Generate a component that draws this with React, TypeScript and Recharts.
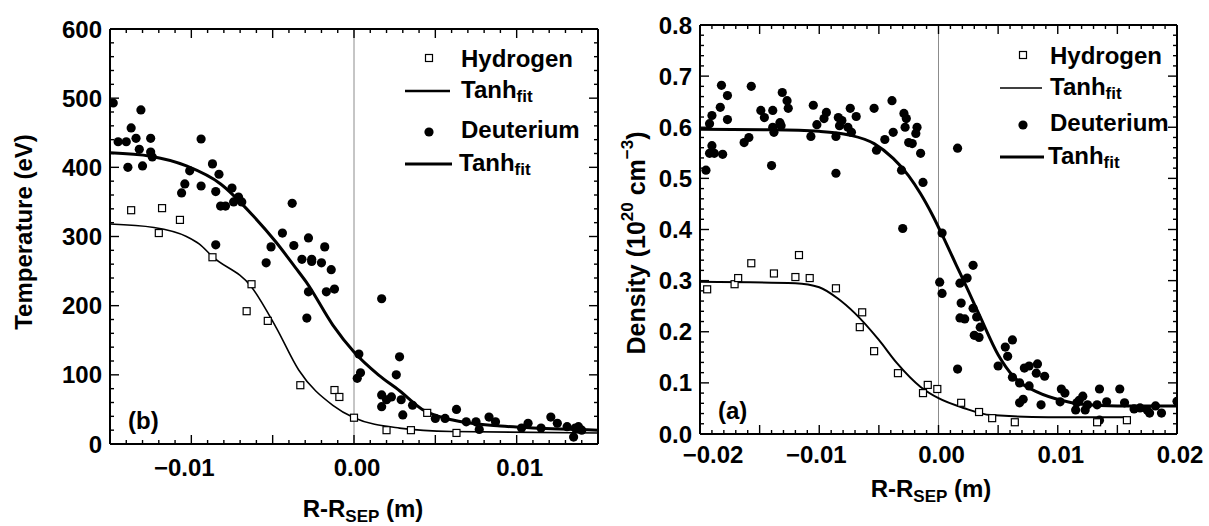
import React from 'react';
import { ComposedChart, Line, Scatter, XAxis, YAxis, ReferenceLine } from 'recharts';

const FONT = '"Liberation Sans", Arial, sans-serif';

// panel (b): electron temperature, [R-Rsep (m), Te (eV)]
const tempHydrogen = [
  [-0.0137, 338], [-0.0118, 341], [-0.0107, 324], [-0.012, 305], [-0.0087, 270],
  [-0.0063, 231], [-0.0066, 192], [-0.0053, 178], [-0.0033, 85], [-0.0012, 78],
  [-0.0009, 68], [0.0, 38], [0.002, 20], [0.0035, 20], [0.0045, 45], [0.0063, 16],
];
const tempDeuterium = [
  [-0.0148, 493], [-0.0145, 437], [-0.014, 437], [-0.0139, 400], [-0.0137, 457],
  [-0.0134, 442], [-0.0131, 483], [-0.0132, 426], [-0.013, 402], [-0.0125, 442],
  [-0.0125, 422], [-0.0124, 415], [-0.0101, 395], [-0.0106, 363], [-0.0104, 376],
  [-0.0094, 441], [-0.0094, 373], [-0.0087, 405], [-0.0083, 390], [-0.0085, 365],
  [-0.0082, 344], [-0.0079, 344], [-0.0075, 370], [-0.0074, 350], [-0.0071, 357],
  [-0.0069, 350], [-0.0085, 288], [-0.0038, 348], [-0.0051, 285], [-0.0044, 305],
  [-0.0037, 287], [-0.0028, 298], [-0.0018, 285], [-0.0032, 267], [-0.0026, 267],
  [-0.0054, 262], [-0.0026, 264], [-0.002, 262], [-0.0014, 252], [-0.0028, 220],
  [-0.0017, 220], [-0.0012, 224], [-0.0029, 182], [0.0017, 210], [0.0002, 95],
  [0.0003, 130], [0.0004, 103], [0.0028, 126], [0.0026, 100], [0.0017, 71],
  [0.002, 64], [0.0017, 54], [0.0023, 68], [0.0029, 64], [0.0036, 56],
  [0.003, 42], [0.005, 37], [0.0056, 37], [0.0063, 50], [0.0069, 32],
  [0.0075, 32], [0.0077, 21], [0.0083, 39], [0.0087, 32], [0.0103, 23],
  [0.0107, 30], [0.0115, 23], [0.0121, 39], [0.0125, 30], [0.0131, 25],
  [0.0135, 10], [0.0138, 25], [0.014, 20], [0.0136, 23],
];
const tempHydrogenFit = [
  [-0.015, 318], [-0.0123, 313], [-0.0103, 300], [-0.0095, 289], [-0.0087, 271],
  [-0.0063, 227], [-0.0048, 169], [-0.0034, 107], [-0.0013, 56], [0.0, 38],
  [0.0028, 23], [0.006, 18], [0.015, 16],
];
const tempDeuteriumFit = [
  [-0.015, 421], [-0.0125, 416], [-0.0103, 402], [-0.0082, 376], [-0.0062, 330],
  [-0.0048, 292], [-0.0036, 255], [-0.0029, 233], [-0.0013, 172], [0.0, 133],
  [0.0015, 100], [0.0028, 77], [0.0042, 50], [0.0055, 38], [0.0069, 31],
  [0.009, 26], [0.011, 23], [0.015, 20],
];
const tempXLabelValues = [-0.01, 0, 0.01];
const tempXLabelText = ['\u22120.01', '0.00', '0.01'];
const tempYLabelValues = [0, 100, 200, 300, 400, 500, 600];
const tempYLabelText = ['0', '100', '200', '300', '400', '500', '600'];

// panel (a): density, [R-Rsep (m), n (1e20 cm^-3)]
const densHydrogen = [
  [-0.0194, 0.283], [-0.0171, 0.293], [-0.0168, 0.305], [-0.0157, 0.334], [-0.0138, 0.314],
  [-0.012, 0.307], [-0.0117, 0.35], [-0.0108, 0.305], [-0.0086, 0.285], [-0.0064, 0.238],
  [-0.0066, 0.209], [-0.0054, 0.162], [-0.0034, 0.119], [-0.0013, 0.08], [-0.0009, 0.096],
  [-0.0001, 0.088], [0.0019, 0.061], [0.0034, 0.043], [0.0045, 0.031], [0.0064, 0.023],
  [0.0133, 0.023], [0.0158, 0.027],
];
const densDeuterium = [
  [-0.0195, 0.516], [-0.0192, 0.607], [-0.019, 0.623], [-0.0183, 0.639], [-0.0182, 0.682],
  [-0.0177, 0.662], [-0.0177, 0.615], [-0.019, 0.564], [-0.0192, 0.549], [-0.0188, 0.549],
  [-0.0181, 0.547], [-0.0163, 0.57], [-0.0159, 0.58], [-0.0157, 0.68], [-0.0149, 0.633],
  [-0.0146, 0.619], [-0.014, 0.525], [-0.0139, 0.633], [-0.0139, 0.6], [-0.0138, 0.59],
  [-0.0133, 0.609], [-0.0132, 0.603], [-0.0131, 0.668], [-0.0127, 0.652], [-0.0126, 0.637],
  [-0.0105, 0.643], [-0.0107, 0.582], [-0.0102, 0.605], [-0.0096, 0.617], [-0.0094, 0.629],
  [-0.0086, 0.51], [-0.0086, 0.582], [-0.0084, 0.619], [-0.0083, 0.603], [-0.0081, 0.613],
  [-0.0076, 0.6], [-0.0074, 0.637], [-0.0073, 0.59], [-0.0069, 0.621], [-0.0054, 0.637],
  [-0.0052, 0.555], [-0.0045, 0.576], [-0.0039, 0.652], [-0.0038, 0.59], [-0.0029, 0.627],
  [-0.0027, 0.617], [-0.0028, 0.6], [-0.0019, 0.588], [-0.0018, 0.6], [-0.0025, 0.57],
  [-0.0022, 0.568], [-0.0015, 0.549], [-0.0031, 0.516], [-0.0013, 0.492], [-0.003, 0.402],
  [0.0003, 0.393], [0.0016, 0.559], [0.0001, 0.297], [0.0003, 0.275], [0.0016, 0.127],
  [0.0018, 0.295], [0.0019, 0.256], [0.0018, 0.227], [0.0022, 0.225], [0.0024, 0.305],
  [0.0029, 0.33], [0.0029, 0.246], [0.0032, 0.229], [0.0035, 0.209], [0.003, 0.193],
  [0.0034, 0.189], [0.005, 0.133], [0.0056, 0.17], [0.0058, 0.152], [0.0062, 0.184],
  [0.0062, 0.111], [0.0068, 0.1], [0.0072, 0.129], [0.0076, 0.133], [0.0076, 0.094],
  [0.0068, 0.061], [0.0071, 0.068], [0.0083, 0.137], [0.0082, 0.119], [0.0089, 0.113],
  [0.0086, 0.057], [0.0103, 0.088], [0.0106, 0.08], [0.0102, 0.063], [0.0116, 0.061],
  [0.0118, 0.066], [0.0121, 0.074], [0.0125, 0.057], [0.0115, 0.047], [0.0123, 0.047],
  [0.0135, 0.088], [0.0133, 0.057], [0.0141, 0.063], [0.0135, 0.027], [0.0152, 0.088],
  [0.0156, 0.061], [0.0164, 0.049], [0.0169, 0.051], [0.0175, 0.047], [0.0182, 0.055],
  [0.0187, 0.041], [0.02, 0.064], [0.0177, 0.041],
];
const densHydrogenFit = [
  [-0.02, 0.298], [-0.012, 0.295], [-0.01, 0.287], [-0.0085, 0.266], [-0.007, 0.236],
  [-0.005, 0.184], [-0.0035, 0.139], [-0.0015, 0.092], [0.0, 0.07], [0.0021, 0.051],
  [0.0044, 0.037], [0.0092, 0.033], [0.0158, 0.033],
];
const densDeuteriumFit = [
  [-0.02, 0.596], [-0.014, 0.595], [-0.01, 0.592], [-0.0075, 0.585], [-0.0054, 0.568],
  [-0.0038, 0.539], [-0.0025, 0.505], [-0.0015, 0.47], [-0.0005, 0.428], [0.0005, 0.38],
  [0.0015, 0.33], [0.0025, 0.28], [0.0035, 0.229], [0.005, 0.155], [0.0063, 0.112],
  [0.0083, 0.082], [0.0103, 0.066], [0.012, 0.058], [0.015, 0.055], [0.02, 0.055],
];
const densXLabelValues = [-0.02, -0.01, 0, 0.01, 0.02];
const densXLabelText = ['\u22120.02', '\u22120.01', '0.00', '0.01', '0.02'];
const densYLabelValues = [0, 0.1, 0.2, 0.3, 0.4, 0.5, 0.6, 0.7, 0.8];
const densYLabelText = ['0.0', '0.1', '0.2', '0.3', '0.4', '0.5', '0.6', '0.7', '0.8'];

const toXY = (arr: number[][]) => arr.map(([x, y]) => ({ x, y }));

function steps(from: number, to: number, step: number) {
  const out: number[] = [];
  const n = Math.round((to - from) / step);
  for (let i = 0; i <= n; i++) out.push(Number((from + i * step).toFixed(6)));
  return out;
}

const onStep = (v: number, step: number) => Math.abs(v / step - Math.round(v / step)) < 1e-6;

function lookup(values: number[], text: string[], v: number) {
  const i = values.findIndex((t) => Math.abs(t - v) < 1e-9);
  return i < 0 ? null : text[i];
}

const AXIS = { stroke: '#000', strokeWidth: 2 };
const TEXT = { fontFamily: FONT, fontWeight: 700, fontSize: 24, fill: '#000' };
const SUB = 17;

function Square(props: any) {
  const { cx, cy } = props;
  if (cx == null || cy == null) return null;
  return <rect x={cx - 3.5} y={cy - 3.5} width={7} height={7} fill="#fff" stroke="#000" strokeWidth={1.2} />;
}

function Dot(props: any) {
  const { cx, cy } = props;
  if (cx == null || cy == null) return null;
  return <circle cx={cx} cy={cy} r={4.6} fill="#000" />;
}

interface PanelProps {
  left: number;
  width: number;
  height: number;
  margin: { top: number; right: number; bottom: number; left: number };
  xDomain: [number, number];
  yDomain: [number, number];
  xTicks: number[];
  yTicks: number[];
  xMajor: number;
  yMajor: number;
  xLabelValues: number[];
  xLabelText: string[];
  yLabelValues: number[];
  yLabelText: string[];
  xLabelDy: number;
  xLabelDx: (v: number) => number;
  hydrogen: number[][];
  deuterium: number[][];
  hydrogenFit: number[][];
  deuteriumFit: number[][];
  hydrogenFitWidth: number;
}

function Panel(p: PanelProps) {
  const xTick = (side: 'bottom' | 'top') => (t: any) => {
    const v = t.payload.value;
    const len = onStep(v, p.xMajor) ? 9 : 4;
    const dir = side === 'bottom' ? -1 : 1;
    const label = side === 'bottom' ? lookup(p.xLabelValues, p.xLabelText, v) : null;
    return (
      <g>
        <line x1={t.x} x2={t.x} y1={t.y} y2={t.y + dir * len} stroke="#000" strokeWidth={1.4} />
        {label && (
          <text x={t.x + p.xLabelDx(v)} y={t.y + p.xLabelDy} textAnchor="middle" {...TEXT}>
            {label}
          </text>
        )}
      </g>
    );
  };
  const yTick = (side: 'left' | 'right') => (t: any) => {
    const v = t.payload.value;
    const len = onStep(v, p.yMajor) ? 9 : 4;
    const dir = side === 'left' ? 1 : -1;
    const label = side === 'left' ? lookup(p.yLabelValues, p.yLabelText, v) : null;
    return (
      <g>
        <line x1={t.x} x2={t.x + dir * len} y1={t.y} y2={t.y} stroke="#000" strokeWidth={1.4} />
        {label && (
          <text x={t.x - 8} y={t.y} textAnchor="end" dominantBaseline="central" {...TEXT}>
            {label}
          </text>
        )}
      </g>
    );
  };

  return (
    <div style={{ position: 'absolute', left: p.left, top: 0 }}>
      <ComposedChart width={p.width} height={p.height} margin={p.margin}>
        <XAxis xAxisId="b" type="number" dataKey="x" domain={p.xDomain} allowDataOverflow ticks={p.xTicks}
          interval={0} tickSize={0} tickMargin={0} height={1} axisLine={AXIS} tickLine={false} tick={xTick('bottom')} />
        <XAxis xAxisId="t" orientation="top" type="number" dataKey="x" domain={p.xDomain} allowDataOverflow ticks={p.xTicks}
          interval={0} tickSize={0} tickMargin={0} height={1} axisLine={AXIS} tickLine={false} tick={xTick('top')} />
        <YAxis yAxisId="l" type="number" domain={p.yDomain} allowDataOverflow ticks={p.yTicks}
          interval={0} tickSize={0} tickMargin={0} width={1} axisLine={AXIS} tickLine={false} tick={yTick('left')} />
        <YAxis yAxisId="r" orientation="right" type="number" domain={p.yDomain} allowDataOverflow ticks={p.yTicks}
          interval={0} tickSize={0} tickMargin={0} width={1} axisLine={AXIS} tickLine={false} tick={yTick('right')} />
        <ReferenceLine xAxisId="b" yAxisId="l" x={0} stroke="#8c8c8c" strokeWidth={1} />
        <Line xAxisId="b" yAxisId="l" data={toXY(p.hydrogenFit)} dataKey="y" type="monotone" stroke="#000"
          strokeWidth={p.hydrogenFitWidth} dot={false} activeDot={false} isAnimationActive={false} />
        <Line xAxisId="b" yAxisId="l" data={toXY(p.deuteriumFit)} dataKey="y" type="monotone" stroke="#000"
          strokeWidth={3} dot={false} activeDot={false} isAnimationActive={false} />
        <Scatter xAxisId="b" yAxisId="l" data={toXY(p.deuterium)} dataKey="y" shape={Dot} isAnimationActive={false} />
        <Scatter xAxisId="b" yAxisId="l" data={toXY(p.hydrogen)} dataKey="y" shape={Square} isAnimationActive={false} />
      </ComposedChart>
    </div>
  );
}

function LegendRows({ sqX, sqY, lineX1, lineX2, textX, rows, thinWidth }: {
  sqX: number; sqY: number; lineX1: number; lineX2: number; textX: number; rows: number[]; thinWidth: number;
}) {
  const [hY, t1Y, dY, t2Y] = rows;
  const tanh = (y: number, x: number) => (
    <text x={x} y={y} dominantBaseline="central" {...TEXT}>
      Tanh<tspan fontSize={SUB} dy={7}>fit</tspan>
    </text>
  );
  return (
    <g>
      <rect x={sqX - 3.5} y={sqY - 3.5} width={7} height={7} fill="#fff" stroke="#000" strokeWidth={1.2} />
      <text x={textX} y={hY} dominantBaseline="central" {...TEXT}>Hydrogen</text>
      <line x1={lineX1} x2={lineX2} y1={t1Y + 2} y2={t1Y + 2} stroke="#000" strokeWidth={thinWidth} />
      {tanh(t1Y, textX)}
      <circle cx={sqX} cy={dY + 3} r={4.6} fill="#000" />
      <text x={textX} y={dY} dominantBaseline="central" {...TEXT}>Deuterium</text>
      <line x1={lineX1} x2={lineX2 + 2} y1={t2Y + 2} y2={t2Y + 2} stroke="#000" strokeWidth={3} />
      {tanh(t2Y, textX - 2)}
    </g>
  );
}

export default function App() {
  const tempXTicks = steps(-0.015, 0.015, 0.001);
  const tempYTicks = steps(0, 600, 20);
  const densXTicks = steps(-0.02, 0.02, 0.001);
  const densYTicks = steps(0, 0.8, 0.02);

  return (
    <div style={{ position: 'absolute', left: 0, top: 0, width: 1209, height: 526, background: '#fff', overflow: 'hidden' }}>
      <Panel
        left={0} width={620} height={526}
        margin={{ top: 28, right: 21, bottom: 81, left: 109 }}
        xDomain={[-0.015, 0.015]} yDomain={[0, 600]}
        xTicks={tempXTicks} yTicks={tempYTicks} xMajor={0.005} yMajor={100}
        xLabelValues={tempXLabelValues} xLabelText={tempXLabelText}
        yLabelValues={tempYLabelValues} yLabelText={tempYLabelText}
        xLabelDy={32} xLabelDx={(v) => (v < 0 ? -7 : 3)}
        hydrogen={tempHydrogen} deuterium={tempDeuterium}
        hydrogenFit={tempHydrogenFit} deuteriumFit={tempDeuteriumFit} hydrogenFitWidth={1.6}
      />
      <Panel
        left={600} width={609} height={526}
        margin={{ top: 24, right: 31, bottom: 91, left: 99 }}
        xDomain={[-0.02, 0.02]} yDomain={[0, 0.8]}
        xTicks={densXTicks} yTicks={densYTicks} xMajor={0.005} yMajor={0.1}
        xLabelValues={densXLabelValues} xLabelText={densXLabelText}
        yLabelValues={densYLabelValues} yLabelText={densYLabelText}
        xLabelDy={29} xLabelDx={(v) => (v < -0.015 ? 13 : v < 0 ? -3 : 3)}
        hydrogen={densHydrogen} deuterium={densDeuterium}
        hydrogenFit={densHydrogenFit} deuteriumFit={densDeuteriumFit} hydrogenFitWidth={2}
      />
      <svg width={1209} height={526} style={{ position: 'absolute', left: 0, top: 0, pointerEvents: 'none' }}>
        <text transform="translate(23,232) rotate(-90)" textAnchor="middle" dominantBaseline="central" {...TEXT}>
          Temperature (eV)
        </text>
        <text x={363} y={517} textAnchor="middle" {...TEXT}>
          R-R<tspan fontSize={SUB} dy={5}>SEP</tspan><tspan dy={-5}> (m)</tspan>
        </text>
        <text x={128} y={420} dominantBaseline="central" {...TEXT}>(b)</text>
        <LegendRows sqX={429} sqY={58} lineX1={405} lineX2={450} textX={461} rows={[58, 89, 129, 162]} thinWidth={2.6} />

        <text transform="translate(636,243) rotate(-90)" textAnchor="middle" dominantBaseline="central" {...TEXT} fontSize={25}>
          Density (10<tspan fontSize={SUB} dy={-9}>20</tspan><tspan dy={9}> cm</tspan>
          <tspan fontSize={SUB} dy={-9}>{'\u22123'}</tspan><tspan dy={9}>)</tspan>
        </text>
        <text x={931} y={497} textAnchor="middle" {...TEXT}>
          R-R<tspan fontSize={SUB} dy={5}>SEP</tspan><tspan dy={-5}> (m)</tspan>
        </text>
        <text x={718} y={410} dominantBaseline="central" {...TEXT}>(a)</text>
        <LegendRows sqX={1023} sqY={55} lineX1={1000} lineX2={1042} textX={1050} rows={[55, 86, 122, 155]} thinWidth={1.6} />
      </svg>
    </div>
  );
}
